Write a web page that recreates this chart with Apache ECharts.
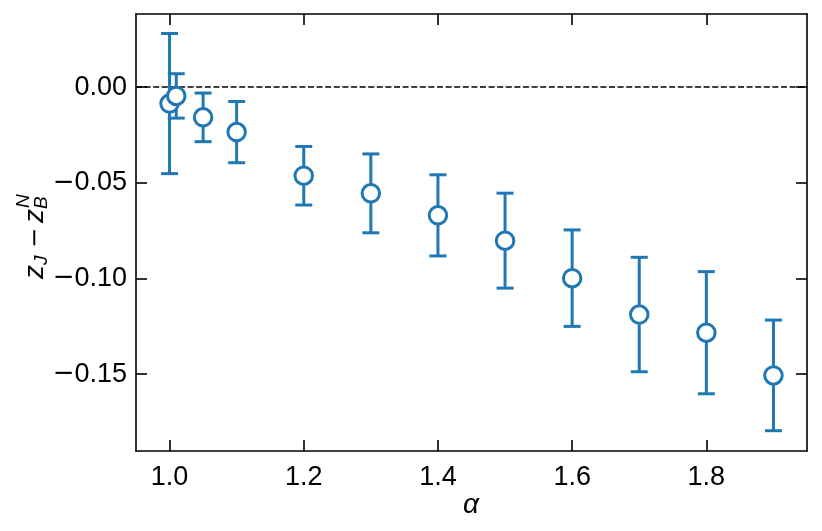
<!DOCTYPE html>
<html>
<head>
<meta charset="utf-8">
<script src="https://cdn.jsdelivr.net/npm/echarts@6/dist/echarts.min.js"></script>
<style>
html,body{margin:0;padding:0;background:#fff;}
#chart{width:822px;height:531px;}
</style>
</head>
<body>
<div id="chart"></div>
<script>
const xValues = [1.0, 1.01, 1.05, 1.1, 1.2, 1.3, 1.4, 1.5, 1.6, 1.7, 1.8, 1.9];
const yValues = [-0.0086, -0.0046, -0.0158, -0.0235, -0.0463, -0.0555, -0.0670, -0.0802, -0.0998, -0.1188, -0.1283, -0.1506];
const yErrors = [0.0366, 0.0116, 0.0127, 0.0160, 0.0153, 0.0206, 0.0212, 0.0248, 0.0252, 0.0299, 0.0319, 0.0289];
const xTicks = [1.0, 1.2, 1.4, 1.6, 1.8];
const yTicks = [0, -0.05, -0.10, -0.15];

const BLUE = '#1f77b4';
const FONT = 'Liberation Sans';
const FS = 27;

const points = xValues.map((x, i) => [x, yValues[i]]);
const bars = xValues.map((x, i) => [x, yValues[i] - yErrors[i], yValues[i] + yErrors[i]]);

const fmtY = v => (Math.abs(v) < 1e-9 ? '0.00' : (v < 0 ? '{m|\u2212}' + Math.abs(v).toFixed(2) : v.toFixed(2)));
const fmtX = v => v.toFixed(1);

const tickStyle = { color: '#000', width: 1.6 };

function axis(pos, min, max, ticks, labelOpts) {
  return {
    type: 'value',
    position: pos,
    min: min, max: max,
    axisLine: { show: true, onZero: false, lineStyle: { color: '#000', width: 1.6 } },
    axisTick: { show: true, inside: true, length: 11, customValues: ticks, lineStyle: tickStyle },
    axisLabel: labelOpts ? Object.assign({ show: true, customValues: ticks }, labelOpts) : { show: false },
    splitLine: { show: false },
    minorTick: { show: false }
  };
}

const chart = echarts.init(document.getElementById('chart'), null, { renderer: 'canvas' });

const option = {
  animation: false,
  backgroundColor: '#fff',
  grid: { left: 136, top: 14, width: 671, height: 437, containLabel: false },
  xAxis: [
    axis('bottom', 0.95, 1.95, xTicks, { formatter: fmtX, color: '#000', fontFamily: FONT, fontSize: FS, margin: 13 }),
    axis('top', 0.95, 1.95, xTicks, null)
  ],
  yAxis: [
    axis('left', -0.1901, 0.0382, yTicks, {
      formatter: fmtY, color: '#000', fontFamily: FONT, fontSize: FS, margin: 9,
      rich: { m: { fontFamily: 'DejaVu Sans', fontSize: 26, color: '#000' } }
    }),
    axis('right', -0.1901, 0.0382, yTicks, null)
  ],
  series: [
    {
      type: 'custom',
      xAxisIndex: 0, yAxisIndex: 0,
      data: bars,
      z: 2,
      renderItem: function (params, api) {
        const x = api.value(0);
        const lo = api.coord([x, api.value(1)]);
        const hi = api.coord([x, api.value(2)]);
        const hw = 8.5;
        const st = { stroke: BLUE, lineWidth: 3 };
        return {
          type: 'group',
          children: [
            { type: 'line', shape: { x1: lo[0], y1: lo[1], x2: hi[0], y2: hi[1] }, style: st },
            { type: 'line', shape: { x1: lo[0] - hw, y1: lo[1], x2: lo[0] + hw, y2: lo[1] }, style: st },
            { type: 'line', shape: { x1: hi[0] - hw, y1: hi[1], x2: hi[0] + hw, y2: hi[1] }, style: st }
          ]
        };
      }
    },
    {
      type: 'scatter',
      xAxisIndex: 0, yAxisIndex: 0,
      data: points,
      z: 3,
      symbol: 'circle',
      symbolSize: 17.5,
      itemStyle: { color: '#fff', borderColor: BLUE, borderWidth: 3, opacity: 1 },
      emphasis: { disabled: true },
      markLine: {
        silent: true,
        symbol: ['none', 'none'],
        label: { show: false },
        lineStyle: { color: '#000', type: [6, 2.6], width: 1.5 },
        data: [{ yAxis: 0 }],
        z: 1
      }
    }
  ],
  graphic: [
    {
      type: 'text',
      x: 471, y: 505,
      style: { text: '\u03b1', fontFamily: FONT, fontStyle: 'italic', fontSize: 28, fill: '#000', align: 'center', verticalAlign: 'middle' }
    },
    {
      type: 'group',
      x: 35, y: 235,
      rotation: Math.PI / 2,
      children: [
        { type: 'text', x: -44, y: 0, style: { text: 'z', fontFamily: FONT, fontStyle: 'italic', fontSize: 28, fill: '#000', align: 'left', verticalAlign: 'middle' } },
        { type: 'text', x: -30, y: 7, style: { text: 'J', fontFamily: FONT, fontStyle: 'italic', fontSize: 19, fill: '#000', align: 'left', verticalAlign: 'middle' } },
        { type: 'text', x: -13, y: 1, style: { text: '\u2212', fontFamily: 'DejaVu Sans', fontSize: 24, fill: '#000', align: 'left', verticalAlign: 'middle' } },
        { type: 'text', x: 12, y: 0, style: { text: 'z', fontFamily: FONT, fontStyle: 'italic', fontSize: 28, fill: '#000', align: 'left', verticalAlign: 'middle' } },
        { type: 'text', x: 26, y: 7, style: { text: 'B', fontFamily: FONT, fontStyle: 'italic', fontSize: 19, fill: '#000', align: 'left', verticalAlign: 'middle' } },
        { type: 'text', x: 27, y: -11, style: { text: 'N', fontFamily: FONT, fontStyle: 'italic', fontSize: 19, fill: '#000', align: 'left', verticalAlign: 'middle' } }
      ]
    }
  ]
};
chart.setOption(option);
</script>
</body>
</html>
